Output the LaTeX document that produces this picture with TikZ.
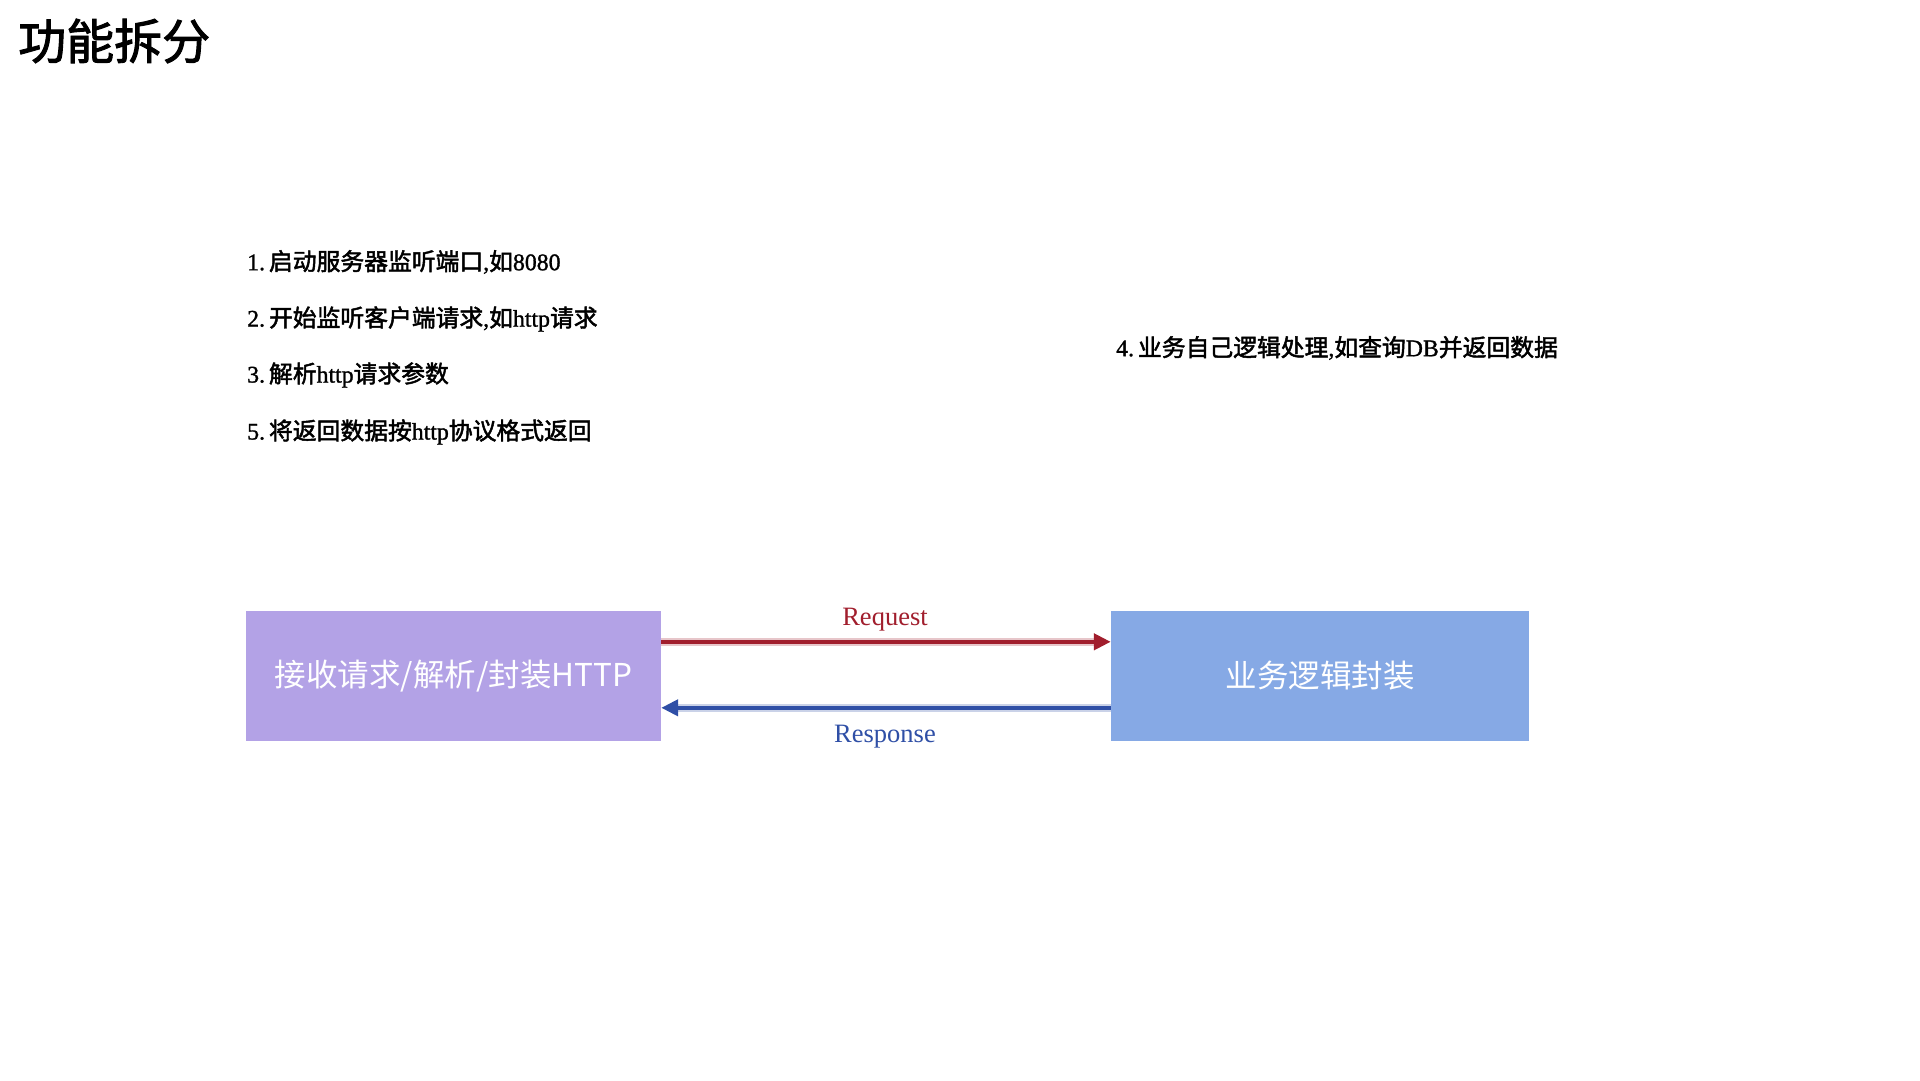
\documentclass[tikz,border=0pt]{standalone}
\usepackage{fontspec}
\setmainfont{Liberation Serif}
\newfontfamily\cjk{Noto Sans CJK SC}
\newfontfamily\cjkm[FakeBold=2]{Noto Sans CJK SC}
\newfontfamily\latm[FakeBold=1.2]{Liberation Serif}
\usetikzlibrary{arrows.meta}
\definecolor{lav}{HTML}{B3A2E6}
\definecolor{sky}{HTML}{86A9E5}
\definecolor{reqc}{HTML}{A11E2D}
\definecolor{resc}{HTML}{2F4FA6}
\newcommand{\C}[1]{{\cjkm #1}}
\begin{document}
\begin{tikzpicture}[x=1pt,y=-1pt,
  item/.style={anchor=west,inner sep=0pt,font=\latm\fontsize{23.8}{28}\selectfont},
  box/.style={draw=none,inner sep=0pt,minimum height=130pt,text=white,font=\cjk\fontsize{31.5}{36}\selectfont},
  lbl/.style={inner sep=0pt,font=\fontsize{26.5}{30}\selectfont},
  arr/.style={line width=4.5pt,-{Triangle[length=17pt,width=16pt]}}]
\useasboundingbox[fill=white] (0,0) rectangle (1920,1080);
\node[anchor=west,inner sep=0pt,font=\cjkm\fontsize{48}{52}\selectfont] (title) at (18,41) {功能拆分};
\node[item] (i1) at (247,262) {1.\,\C{启动服务器监听端口},\C{如}8080};
\node[item] (i2) at (247,319) {2.\,\C{开始监听客户端请求},\C{如}http\C{请求}};
\node[item] (i3) at (247,375) {3.\,\C{解析}http\C{请求参数}};
\node[item] (i5) at (247,432) {5.\,\C{将返回数据按}http\C{协议格式返回}};
\node[item] (i4) at (1116,348) {4.\,\C{业务自己逻辑处理},\C{如查询}DB\C{并返回数据}};
\node[box,fill=lav,minimum width=415pt] (lbox) at (453.5,676) {接收请求/解析/封装HTTP};
\node[box,fill=sky,minimum width=418pt] (rbox) at (1320,676) {业务逻辑封装};
\draw[draw=reqc,draw opacity=0.25,line width=8pt] ([yshift=-31pt]lbox.north east) -- ([yshift=-31pt,xshift=-10pt]rbox.north west);
\draw[arr,draw=reqc,fill=reqc] ([yshift=-31pt]lbox.north east) -- ([yshift=-31pt]rbox.north west);
\draw[draw=resc,draw opacity=0.25,line width=8pt] ([yshift=-97pt]rbox.north west) -- ([yshift=-97pt,xshift=10pt]lbox.north east);
\draw[arr,draw=resc,fill=resc] ([yshift=-97pt]rbox.north west) -- ([yshift=-97pt]lbox.north east);
\node[lbl,text=reqc] (req) at (885,620) {Request};
\node[lbl,text=resc] (res) at (885,737) {Response};
\end{tikzpicture}
\end{document}
